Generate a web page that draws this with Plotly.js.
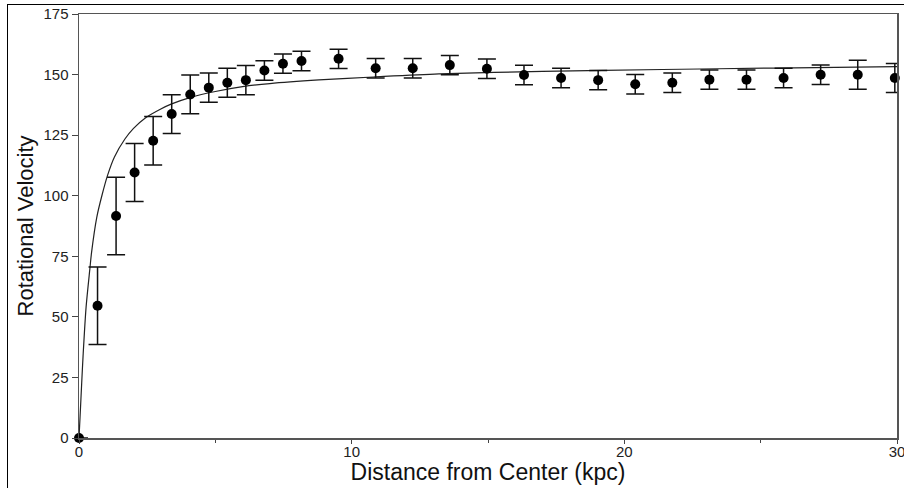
<!DOCTYPE html>
<html>
<head>
<meta charset="utf-8">
<script src="https://cdn.plot.ly/plotly-3.0.1.min.js"></script>
<style>
  html, body { margin: 0; padding: 0; background: #fff; }
  #wrap { position: relative; width: 904px; height: 488px; overflow: hidden; }
  #chart { width: 904px; height: 488px; }
  #frame { position: absolute; left: 7px; top: 4px; width: 920px; height: 500px;
           border-top: 1.5px solid #000; border-left: 1.5px solid #000; pointer-events: none; }
</style>
</head>
<body>
<div id="wrap"><div id="chart"></div><div id="frame"></div></div>
<script>
const radius = [0, 0.68, 1.36, 2.04, 2.72, 3.40, 4.08, 4.76, 5.44, 6.12, 6.80, 7.48, 8.16,
                9.52, 10.88, 12.24, 13.60, 14.96, 16.32, 17.68, 19.04, 20.40, 21.76, 23.12,
                24.48, 25.84, 27.20, 28.56, 29.92];
const velocity = [0, 54.6, 91.6, 109.6, 122.7, 133.7, 141.8, 144.6, 146.6, 147.7, 151.7, 154.5, 155.6,
                  156.5, 152.6, 152.6, 153.9, 152.4, 149.8, 148.6, 147.7, 146.0, 146.6, 147.9,
                  147.9, 148.6, 149.9, 149.9, 148.6];
const velocityErr = [0, 16, 16, 12, 10, 8, 8, 6, 6, 6, 4, 4, 4,
                     4, 4, 4, 4, 4, 4, 4, 4, 4, 4, 4,
                     4, 4, 4, 6, 6];

// Model curve
const modelRadius = [0, 0.04, 0.10, 0.15, 0.26, 0.40, 0.46, 0.65, 0.85, 1.05, 1.30, 1.69, 2.00,
                     2.42, 3.00, 3.40, 4.10, 5.00, 6.00, 7.00, 8.80, 10.80, 13.20, 17.00,
                     21.40, 25.50, 30.00];
const modelVelocity = [0, 9, 23, 34, 54, 70, 76.5, 91, 100.5, 108.5, 116, 123.5, 127.8,
                       132, 135.8, 137.9, 140.6, 143, 145, 146.3, 147.8, 149, 150.3, 151.3,
                       152.1, 152.7, 153.3];

const xTitle = 'Distance from Center (kpc)';
const yTitle = 'Rotational Velocity';

const font = "'Liberation Sans', Arial, sans-serif";

const traces = [
  {
    x: modelRadius, y: modelVelocity, type: 'scatter', mode: 'lines',
    line: { color: '#222', width: 1.2, shape: 'spline', smoothing: 0.8 },
    hoverinfo: 'skip', showlegend: false
  },
  {
    x: radius, y: velocity, type: 'scatter', mode: 'markers',
    marker: { color: '#000', size: 10 },
    error_y: { type: 'data', array: velocityErr, visible: true, color: '#111', thickness: 1.5, width: 9 },
    cliponaxis: false, showlegend: false
  }
];

const layout = {
  width: 904, height: 488,
  margin: { l: 79, r: 7, t: 14, b: 50 },
  paper_bgcolor: '#fff', plot_bgcolor: '#fff',
  font: { family: font, color: '#222', size: 15 },
  showlegend: false,
  xaxis: {
    range: [0, 30], dtick: 10, tick0: 0,
    ticks: 'outside', ticklen: 4, tickwidth: 1, tickcolor: '#444',
    minor: { dtick: 5, ticks: 'outside', ticklen: 3, tickcolor: '#444' },
    ticklabeloverflow: 'allow', ticklabelstandoff: -5,
    showgrid: false, zeroline: false,
    showline: true, linecolor: '#555', linewidth: 1.5, mirror: true,
    tickfont: { family: font, size: 15, color: '#222' },
    title: { text: xTitle, font: { family: "'Liberation Sans Narrow', 'Liberation Sans', Arial, sans-serif", size: 23, color: '#111' }, standoff: 2 }
  },
  yaxis: {
    range: [0, 175], dtick: 25, tick0: 0,
    ticks: 'outside', ticklen: 6, tickwidth: 1, tickcolor: '#444',
    showgrid: false, zeroline: false,
    showline: true, linecolor: '#555', linewidth: 1.5, mirror: true,
    tickfont: { family: font, size: 15, color: '#222' },
    title: { text: yTitle, font: { family: font, size: 22, color: '#111' }, standoff: 4 }
  }
};

Plotly.newPlot('chart', traces, layout, { displayModeBar: false, staticPlot: true });
</script>
</body>
</html>
